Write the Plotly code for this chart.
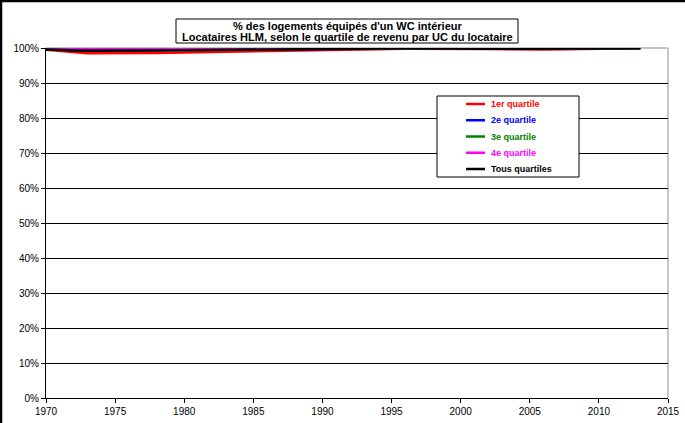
import plotly.graph_objects as go

years = [1970, 1973, 1978, 1984, 1988, 1992, 1996, 2002, 2006, 2013]
q1 = [99.5, 98.5, 98.6, 99.0, 99.3, 99.5, 99.8, 99.7, 99.6, 99.9]
q2 = [99.6, 99.3, 99.4, 99.6, 99.7, 99.8, 99.9, 99.9, 99.9, 99.9]
q3 = [99.8, 99.6, 99.7, 99.8, 99.8, 99.9, 99.9, 99.9, 99.9, 99.9]
q4 = [100.0, 99.9, 100.0, 100.0, 100.0, 100.0, 100.0, 100.0, 100.0, 100.0]
tous = [99.6, 99.2, 99.3, 99.5, 99.6, 99.7, 99.9, 99.8, 99.8, 99.9]

names = ["1er quartile", "2e quartile", "3e quartile", "4e quartile", "Tous quartiles"]
values = [q1, q2, q3, q4, tous]
colors = ["#ff0000", "#0000ff", "#008000", "#ff00ff", "#000000"]

title_lines = ["% des logements équipés d'un WC intérieur",
               "Locataires HLM, selon le quartile de revenu par UC du locataire"]

W, H = 685, 423
L, R, T, B = 46, 17, 48, 25
pw, ph = W - L - R, H - T - B


def px(x):
    return (x - L) / pw


def py(y):
    return (H - B - y) / ph


fig = go.Figure()
for name, vals, col in zip(names, values, colors):
    fig.add_trace(go.Scatter(x=years, y=vals, mode="lines",
                             line=dict(color=col, width=2.5), name=name,
                             showlegend=False, hoverinfo="skip"))

fig.update_layout(
    width=W, height=H,
    margin=dict(l=L, r=R, t=T, b=B, autoexpand=False),
    paper_bgcolor="white", plot_bgcolor="white",
    font=dict(family="Liberation Sans, Arial, sans-serif", size=10, color="black"),
    showlegend=False,
    xaxis=dict(range=[1970, 2015], tickmode="linear", tick0=1970, dtick=5,
               showgrid=False, zeroline=False, showline=True, linecolor="black",
               linewidth=1, ticks="outside", ticklen=4, tickcolor="black",
               automargin=False, tickfont=dict(size=10)),
    yaxis=dict(range=[0, 100], tickmode="linear", tick0=0, dtick=10,
               ticksuffix="%", showgrid=True, gridcolor="black", gridwidth=1,
               zeroline=False, showline=True, linecolor="black", linewidth=1,
               ticks="outside", ticklen=4, tickcolor="black", automargin=False,
               tickfont=dict(size=10)),
)

# grey right/top plot border
fig.add_shape(type="line", xref="paper", yref="paper", x0=0, x1=1, y0=1, y1=1,
              line=dict(color="#b4b4b4", width=1.5), layer="below")
fig.add_shape(type="line", xref="paper", yref="paper", x0=1, x1=1, y0=0, y1=1,
              line=dict(color="#b4b4b4", width=1.5), layer="below")

# outer chart border (left and top only visible)
fig.add_shape(type="line", xref="paper", yref="paper",
              x0=px(1), x1=px(1), y0=py(H), y1=py(0),
              line=dict(color="black", width=2.5))
fig.add_shape(type="line", xref="paper", yref="paper",
              x0=px(0), x1=px(W), y0=py(1), y1=py(1),
              line=dict(color="black", width=2.5))

# title box
fig.add_shape(type="rect", xref="paper", yref="paper",
              x0=px(176), x1=px(518), y0=py(43), y1=py(19),
              line=dict(color="black", width=1), fillcolor="white")
for i, t in enumerate(title_lines):
    fig.add_annotation(xref="paper", yref="paper", x=px(347), y=py(25.5 + 12 * i),
                       xanchor="center", yanchor="middle", showarrow=False,
                       text="<b>" + t + "</b>", font=dict(size=11, color="black"))

# legend box
fig.add_shape(type="rect", xref="paper", yref="paper",
              x0=px(437), x1=px(579), y0=py(177), y1=py(96),
              line=dict(color="black", width=1), fillcolor="white")
for i, (name, col) in enumerate(zip(names, colors)):
    yy = 104 + 16.25 * i
    fig.add_shape(type="line", xref="paper", yref="paper",
                  x0=px(466), x1=px(485), y0=py(yy), y1=py(yy),
                  line=dict(color=col, width=2.5))
    fig.add_annotation(xref="paper", yref="paper", x=px(489), y=py(yy),
                       xanchor="left", yanchor="middle", showarrow=False,
                       text="<b>" + name + "</b>", font=dict(size=9, color=col))

fig.write_html("out.html", config={"displayModeBar": False},
               post_script="document.body.style.margin='0px';document.body.style.overflow='hidden';")
